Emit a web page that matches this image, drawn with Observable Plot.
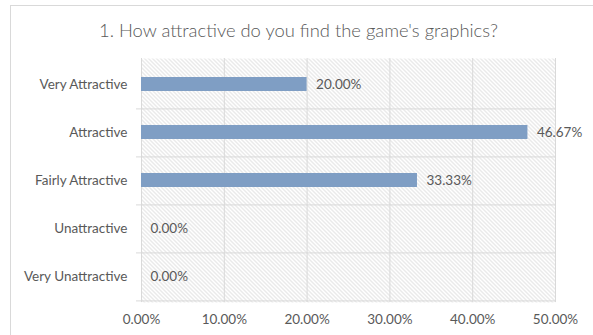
<!DOCTYPE html>
<html><head><meta charset="utf-8">
<script src="https://cdn.jsdelivr.net/npm/d3@7"></script>
<script src="https://cdn.jsdelivr.net/npm/@observablehq/plot@0.6"></script>
<style>
body{margin:0;background:#fff;}
#wrap{position:relative;width:593px;height:335px;overflow:hidden;font-family:Lato,"Open Sans",sans-serif;}
#border{position:absolute;left:10px;top:5px;width:700px;height:400px;border-top:1px solid #d9d9d9;border-left:1px solid #d9d9d9;box-sizing:border-box;}
#title{position:relative;height:50px;box-sizing:border-box;padding-top:19px;line-height:22px;font-size:18.4px;font-weight:300;color:#595959;text-align:center;padding-left:4px;}
#chart{position:relative;}
</style>
</head><body>
<div id="wrap">
  <div id="border"></div>
  <div id="title">1. How attractive do you find the game's graphics?</div>
  <div id="chart"></div>
</div>
<script>
const categories = ["Very Attractive","Attractive","Fairly Attractive","Unattractive","Very Unattractive"];
const values = [0.2, 0.4667, 0.3333, 0, 0];
const xTicks = [0, 0.1, 0.2, 0.3, 0.4, 0.5];

const data = categories.map((c,i)=>({cat:c, value:values[i]}));
const fmt = d => (d*100).toFixed(2) + "%";

const W = 593, H = 285, mt = 8, mb = 33, ml = 141, mr = 38;
const step = (H - mt - mb) / categories.length;

const plot = Plot.plot({
  width: W, height: H,
  marginTop: mt, marginBottom: mb, marginLeft: ml, marginRight: mr,
  style: {color:"#595959", fontFamily:"Lato, 'Open Sans', sans-serif", fontSize:"13.5px", background:"transparent"},
  x: {domain:[0,0.5], ticks:xTicks, tickFormat:fmt, tickSize:0, tickPadding:12, label:null},
  y: {domain:categories, paddingInner:0.7, paddingOuter:0.35, tickSize:0, tickPadding:14, label:null},
  marks: [
    Plot.frame({fill:"url(#hatch)", stroke:null}),
    Plot.ruleX(xTicks, {stroke:"#d9d9d9", strokeWidth:1}),
    Plot.ruleY(categories, {y:d=>d, dy: step/2, stroke:"#d9d9d9", strokeWidth:1, insetLeft:-5}),
    Plot.barX(data, {x:"value", y:"cat", fill:"#7f9ec4"}),
    Plot.text(data, {x:"value", y:"cat", text:d=>fmt(d.value), textAnchor:"start", dx:9, fill:"#595959", fontSize:13.5})
  ]
});
const defs = d3.create("svg:defs");
const pat = defs.append("pattern").attr("id","hatch").attr("patternUnits","userSpaceOnUse")
  .attr("width",4).attr("height",4);
pat.append("rect").attr("width",4).attr("height",4).attr("fill","#ffffff");
pat.append("path").attr("d","M-1,-1L5,5M-1,3L1,5M3,-1L5,1").attr("stroke","#cfcfcf").attr("stroke-width",0.9);
plot.insertBefore(defs.node(), plot.firstChild);
document.getElementById("chart").appendChild(plot);
</script>
</body></html>
